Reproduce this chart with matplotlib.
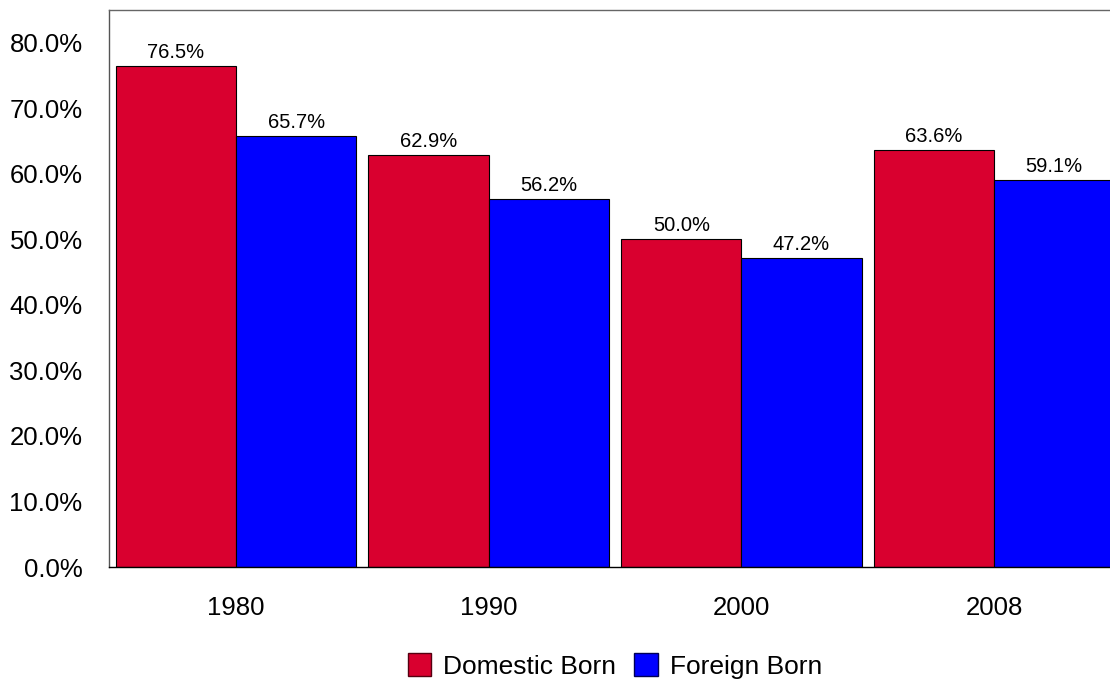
import numpy as np
import matplotlib
matplotlib.use("Agg")
from matplotlib import pyplot as plt
from matplotlib.patches import Patch

years = ["1980", "1990", "2000", "2008"]
domestic = [76.5, 62.9, 50.0, 63.6]
foreign = [65.7, 56.2, 47.2, 59.1]
yticks = [0, 10, 20, 30, 40, 50, 60, 70, 80]

red = "#D9002F"
blue = "#0000FF"

plt.rcParams["font.family"] = ["Liberation Sans", "DejaVu Sans"]

fig = plt.figure(figsize=(11.1, 6.83), dpi=100)
ax = fig.add_axes([0.0982, 0.1698, 0.9018, 0.8156])

x = np.arange(len(years))
w = 0.476
b1 = ax.bar(x - w / 2, domestic, w, color=red, edgecolor="black", linewidth=0.8)
b2 = ax.bar(x + w / 2, foreign, w, color=blue, edgecolor="black", linewidth=0.8)

for bars, vals in ((b1, domestic), (b2, foreign)):
    for r, v in zip(bars, vals):
        ax.annotate(f"{v:.1f}%", (r.get_x() + r.get_width() / 2, v),
                    xytext=(0, 3), textcoords="offset points",
                    ha="center", va="bottom", fontsize=14.5)

ax.set_xlim(-0.503, 3.459)
ax.set_ylim(0, 85)
ax.set_xticks(x)
ax.set_xticklabels(years)
ax.set_yticks(yticks)
ax.set_yticklabels([f"{t:.1f}%" for t in yticks])
ax.tick_params(axis="y", length=0, pad=19, labelsize=18.5)
ax.tick_params(axis="x", length=0, pad=21, labelsize=18.5)

ax.spines["right"].set_visible(False)
ax.spines["top"].set_color("#666666")
ax.spines["left"].set_color("#555555")
ax.spines["bottom"].set_color("black")
for s in ax.spines.values():
    s.set_linewidth(1.0)

handles = [Patch(facecolor=red, edgecolor="#550010", label="Domestic Born"),
           Patch(facecolor=blue, edgecolor="#000055", label="Foreign Born")]
fig.legend(handles=handles, loc="center", bbox_to_anchor=(0.554, 0.025),
           ncol=2, frameon=False, fontsize=19, handlelength=0.9,
           handleheight=0.95, handletextpad=0.45, columnspacing=0.68)

fig.savefig("out.png", dpi=100)
